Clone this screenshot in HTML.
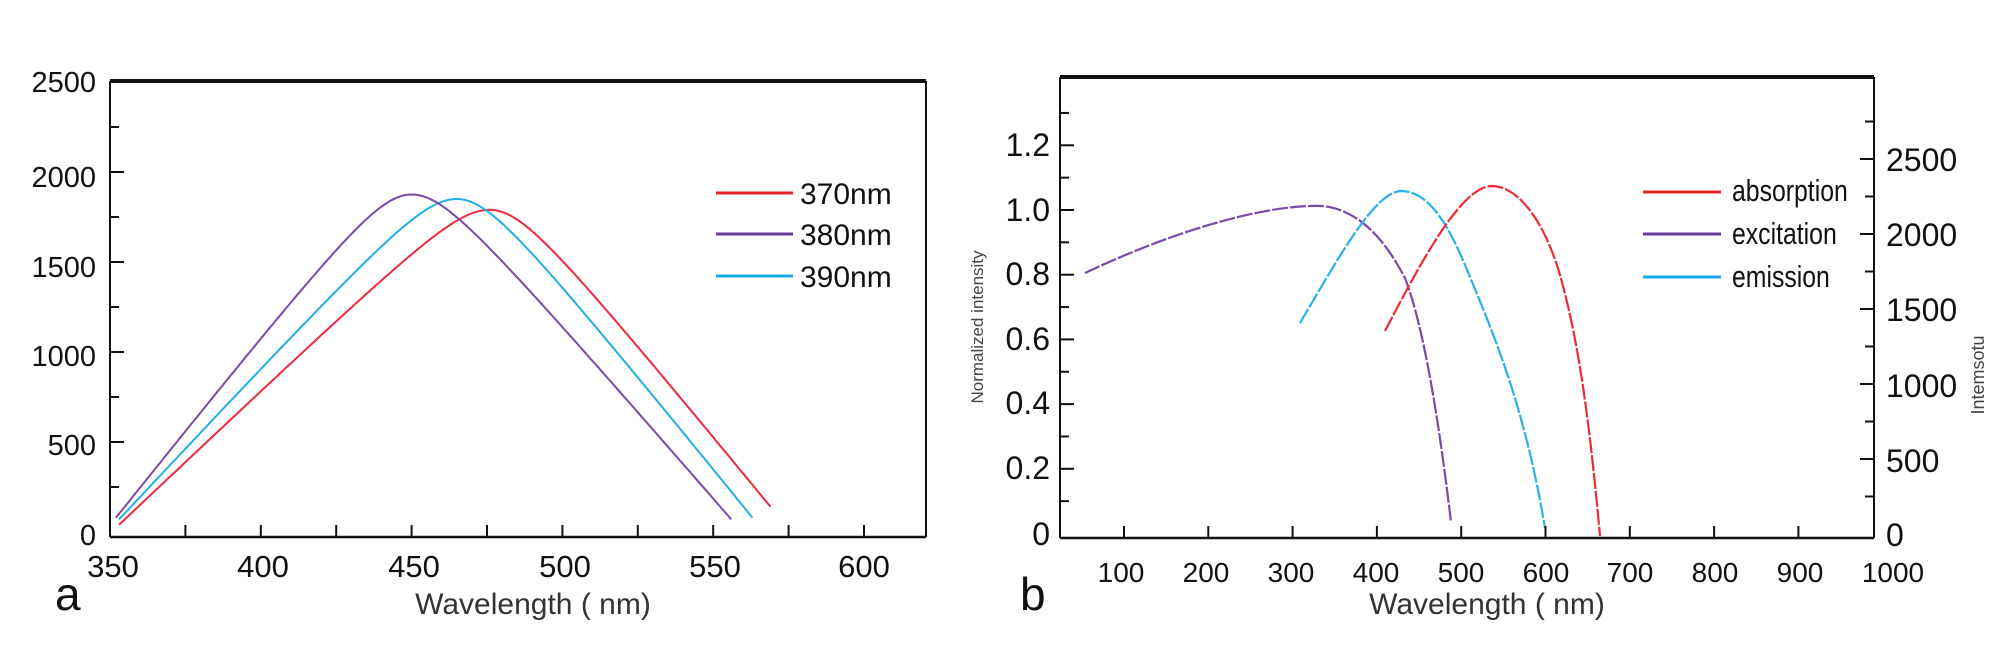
<!DOCTYPE html>
<html><head><meta charset="utf-8"><style>
body{margin:0;background:#fff;}
svg{display:block;}
text{font-family:"Liberation Sans",sans-serif;}
</style></head><body>
<svg id="s" width="2008" height="653" viewBox="0 0 2008 653" xmlns="http://www.w3.org/2000/svg">
<rect width="2008" height="653" fill="#fff"/>
<!-- Panel a -->
<g stroke="#111" fill="none">
<line x1="110" y1="81" x2="926" y2="81" stroke-width="4"/>
<line x1="110" y1="81" x2="110" y2="537" stroke-width="2"/>
<line x1="926" y1="81" x2="926" y2="537" stroke-width="2"/>
<line x1="110" y1="537" x2="926" y2="537" stroke-width="2.5"/>
</g>
<g font-size="29" fill="#111" text-anchor="end">
<text x="96" y="92">2500</text><text x="96" y="187">2000</text><text x="96" y="277">1500</text>
<text x="96" y="366">1000</text><text x="96" y="455">500</text><text x="96" y="545">0</text>
</g>
<g font-size="31" fill="#111" text-anchor="middle">
<text x="113" y="577">350</text><text x="263" y="577">400</text><text x="414" y="577">450</text>
<text x="565" y="577">500</text><text x="715" y="577">550</text><text x="864" y="577">600</text>
</g>
<text x="533" y="614" font-size="30" fill="#333" text-anchor="middle">Wavelength ( nm)</text>
<text x="55" y="610" font-size="46" fill="#111">a</text>
<g stroke-width="3"><line x1="716" y1="193" x2="793" y2="193" stroke="#e8202e"/>
<line x1="716" y1="234" x2="793" y2="234" stroke="#6a3a9a"/>
<line x1="716" y1="276" x2="793" y2="276" stroke="#1aa8e8"/></g>
<g font-size="30" fill="#111"><text x="800" y="204">370nm</text><text x="800" y="245">380nm</text><text x="800" y="287">390nm</text></g>

<!-- Panel b -->
<g stroke="#111" fill="none">
<line x1="1060" y1="77" x2="1874" y2="77" stroke-width="4"/>
<line x1="1060" y1="77" x2="1060" y2="538" stroke-width="2"/>
<line x1="1874" y1="77" x2="1874" y2="538" stroke-width="2"/>
<line x1="1060" y1="538" x2="1874" y2="538" stroke-width="2.5"/>
</g>
<g font-size="32" fill="#111" text-anchor="end">
<text x="1050" y="156">1.2</text><text x="1050" y="221">1.0</text><text x="1050" y="285">0.8</text>
<text x="1050" y="350">0.6</text><text x="1050" y="414">0.4</text><text x="1050" y="479">0.2</text><text x="1050" y="545">0</text>
</g>
<g font-size="32" fill="#111">
<text x="1886" y="171">2500</text><text x="1886" y="246">2000</text><text x="1886" y="321">1500</text>
<text x="1886" y="397">1000</text><text x="1886" y="472">500</text><text x="1886" y="546">0</text>
</g>
<g font-size="28" fill="#111" text-anchor="middle">
<text x="1121" y="582">100</text><text x="1206" y="582">200</text><text x="1291" y="582">300</text>
<text x="1376" y="582">400</text><text x="1461" y="582">500</text><text x="1546" y="582">600</text>
<text x="1630" y="582">700</text><text x="1715" y="582">800</text><text x="1800" y="582">900</text><text x="1893" y="582">1000</text>
</g>
<text x="1487" y="614" font-size="30" fill="#333" text-anchor="middle">Wavelength ( nm)</text>
<text x="1020" y="610" font-size="46" fill="#111">b</text>
<text transform="translate(983,327) rotate(-90)" font-size="17" fill="#444" text-anchor="middle">Normalized intensity</text>
<text transform="translate(1984,375) rotate(-90)" font-size="18" fill="#444" text-anchor="middle">Intemsotu</text>
<g stroke-width="3"><line x1="1643" y1="192" x2="1721" y2="192" stroke="#e8202e"/>
<line x1="1643" y1="234" x2="1721" y2="234" stroke="#6a3a9a"/>
<line x1="1643" y1="277" x2="1721" y2="277" stroke="#1aa8e8"/></g>
<g font-size="31" fill="#111" transform="translate(1732,0) scale(0.8,1)"><text x="0" y="201">absorption</text><text x="0" y="244">excitation</text><text x="0" y="287">emission</text></g>
<g fill="none" stroke-width="2.2" stroke-dasharray="16 2">
<path stroke="#7a4aa8" d="M1085,273 C1180,228 1270,204 1322,206 C1365,210 1390,250 1405,278 C1425,330 1440,430 1451,522"/>
<path stroke="#2ab0ea" d="M1300,323 C1340,255 1375,192 1401,191 C1430,191 1450,229 1465,265 C1495,337 1525,408 1545,528"/>
<path stroke="#ee2a36" d="M1385,331 C1420,264 1460,188 1491,186 C1520,186 1545,224 1560,275 C1580,346 1590,428 1600,536"/>
</g>
<g id="ticks" stroke="#111" stroke-width="2"></g>
<g id="curves" fill="none" stroke-width="2"></g>
</svg>
<script>
var NS="http://www.w3.org/2000/svg";
function ln(g,x1,y1,x2,y2){var l=document.createElementNS(NS,"line");l.setAttribute("x1",x1);l.setAttribute("y1",y1);l.setAttribute("x2",x2);l.setAttribute("y2",y2);g.appendChild(l);}
var T=document.getElementById("ticks");
for(var v=250;v<=2500;v+=250){var y=532-v*0.18;ln(T,110,y,110+(v%500==0?14:9),y);}
for(var k=1;k<=10;k++){var x=110+75.4*k; if(x<926) ln(T,x,537,x,525);}
for(var i=1;i<=13;i++){var y=533.5-i*0.1*323.5;if(y>80)ln(T,1060,y,1060+(i%2==0?14:9),y);}
for(var v=250;v<=2750;v+=250){var y=534-v*0.15;if(y<530&&y>80)ln(T,1874,y,1874-(v%500==0?14:9),y);}
for(var v=100;v<=900;v+=100){var x=1124+(v-100)*0.843;ln(T,x,538,x,526);}
var C=document.getElementById("curves");
function curve(x0,P,xs,ys,xe,ye,col){
 var c=14,kL=(P-ys)/(Math.sqrt((x0-xs)*(x0-xs)+c*c)-c),kR=(P-ye)/(Math.sqrt((xe-x0)*(xe-x0)+c*c)-c);
 var d="";for(var w=xs;w<=xe+0.01;w+=1){var dd=w-x0,k=dd<0?kL:kR;var val=P-k*(Math.sqrt(dd*dd+c*c)-c);
 var X=110+(w-350)*3.016,Y=532-val*0.18;d+=(d?"L":"M")+X.toFixed(1)+","+Y.toFixed(1);}
 var p=document.createElementNS(NS,"path");p.setAttribute("d",d);p.setAttribute("stroke",col);C.appendChild(p);}
curve(476,1790,353,40,569,140,"#ee2a40");
curve(465,1850,353,70,563,80,"#22aee8");
curve(450,1875,352,80,556,70,"#7a4aa8");
</script>
</body></html>
